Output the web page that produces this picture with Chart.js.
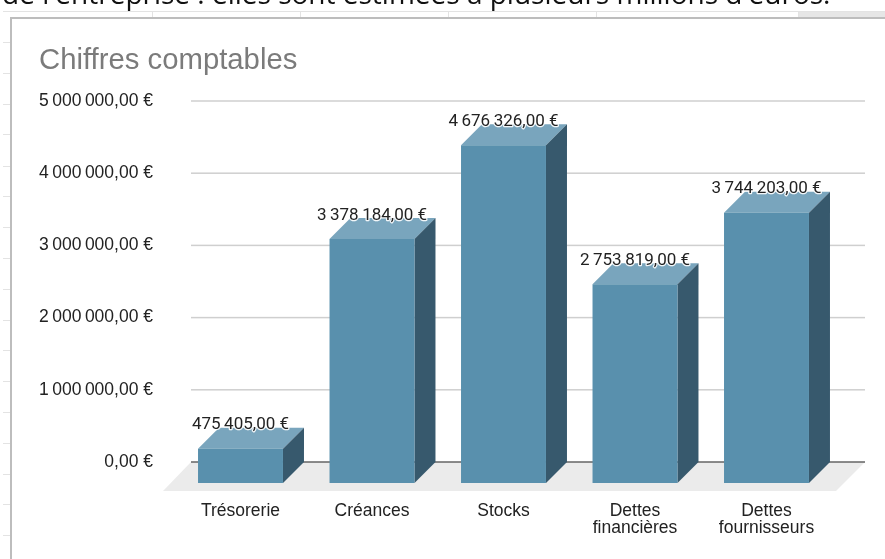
<!DOCTYPE html>
<html lang="fr">
<head>
<meta charset="utf-8">
<title>Chiffres comptables</title>
<style>
html, body { margin: 0; padding: 0; background: #fff; overflow: hidden; }
#page { position: relative; width: 885px; height: 559px; overflow: hidden; filter: blur(0.35px); }
#sentence { position: absolute; left: 2px; top: -26px; font: 28px "Open Sans", sans-serif; color: #111; white-space: nowrap; z-index: 2; }
canvas { position: absolute; left: 0; top: 0; }
</style>
</head>
<body>
<div id="page">
  <div id="sentence">de l'entreprise : elles sont estimées à plusieurs millions d'euros.</div>
  <canvas id="comptaChart" width="885" height="559"></canvas>
</div>
<script src="https://cdn.jsdelivr.net/npm/chart.js@4/dist/chart.umd.min.js"></script>
<script>
var categories = ['Trésorerie', 'Créances', 'Stocks', ['Dettes', 'financières'], ['Dettes', 'fournisseurs']]
var montants = [475405, 3378184, 4676326, 2753819, 3744203]
var yTicks = [0, 1000000, 2000000, 3000000, 4000000, 5000000]

var depth = 21
var floorDepth = 29

// "4 676 326,00 €" with thin spaces between the groups
function euros(v) {
    var s = String(v).replace(/\B(?=(\d{3})+(?!\d))/g, '\u2009')
    return s + ',00\u00a0€'
}

function poly(ctx, color, pts) {
    ctx.fillStyle = color
    ctx.beginPath()
    ctx.moveTo(pts[0][0], pts[0][1])
    for (var i = 1; i < pts.length; i++) ctx.lineTo(pts[i][0], pts[i][1])
    ctx.closePath()
    ctx.fill()
}

// bits of the spreadsheet around the chart
var sheetFrame = {
    id: 'sheetFrame',
    beforeDraw: function (chart) {
        var ctx = chart.ctx
        ctx.save()
        ctx.fillStyle = '#e6e6e6'
        ctx.fillRect(798, 12, 87, 5)
        ctx.strokeStyle = '#e3e3e3'
        ctx.lineWidth = 1
        ctx.beginPath()
        ctx.moveTo(3, 11.5); ctx.lineTo(885, 11.5)
        ;[152, 300, 448, 596, 798].forEach(function (x) {
            ctx.moveTo(x + 0.5, 12); ctx.lineTo(x + 0.5, 17)
        })
        ;[42, 73, 104, 134, 166, 196, 227, 258, 289, 320, 350, 381, 412, 443, 474, 504, 535].forEach(function (y) {
            ctx.moveTo(3, y + 0.5); ctx.lineTo(11, y + 0.5)
        })
        ctx.stroke()
        ctx.fillStyle = '#bdbdbd'
        ctx.fillRect(10, 17, 875, 2)
        ctx.fillRect(10, 17, 2, 542)
        ctx.restore()
    }
}

// floor, gridlines and the top and side faces of the bars
var faces3d = {
    id: 'faces3d',
    beforeDatasetsDraw: function (chart) {
        var ctx = chart.ctx
        var area = chart.chartArea
        var y = chart.scales.y
        var zero = y.getPixelForValue(0)
        var left = area.left - 4.75
        var right = area.right + 11.75
        ctx.save()
        poly(ctx, '#ebebeb', [[left, zero], [right, zero], [right - floorDepth, zero + floorDepth], [left - floorDepth + 1, zero + floorDepth]])
        y.ticks.forEach(function (t) {
            var p = y.getPixelForValue(t.value)
            ctx.fillStyle = t.value === 0 ? '#666666' : '#cfcfcf'
            ctx.fillRect(left, p - 0.75, right - left, 1.5)
        })
        chart.getDatasetMeta(0).data.forEach(function (bar) {
            var l = bar.x - bar.width / 2
            var r = bar.x + bar.width / 2
            poly(ctx, '#79a5bd', [[l, bar.y], [r, bar.y], [r - depth, bar.y + depth], [l - depth, bar.y + depth]])
            poly(ctx, '#37596d', [[r, bar.y], [r - depth, bar.y + depth], [r - depth, bar.base + depth], [r, bar.base]])
        })
        ctx.restore()
    },
    // the front face sits nearer to the viewer than the value it stands for
    beforeDatasetDraw: function (chart) {
        chart.ctx.save()
        chart.ctx.translate(-depth, depth)
    },
    afterDatasetDraw: function (chart) {
        chart.ctx.restore()
    },
    afterDatasetsDraw: function (chart) {
        var ctx = chart.ctx
        ctx.save()
        ctx.font = '17px Roboto'
        ctx.textAlign = 'center'
        ctx.textBaseline = 'middle'
        ctx.lineJoin = 'round'
        chart.getDatasetMeta(0).data.forEach(function (bar, i) {
            var txt = euros(montants[i])
            ctx.strokeStyle = 'rgba(255,255,255,0.9)'
            ctx.lineWidth = 2.5
            ctx.strokeText(txt, bar.x - depth, bar.y - 2.5)
            ctx.fillStyle = '#222222'
            ctx.fillText(txt, bar.x - depth, bar.y - 2.5)
        })
        ctx.restore()
    }
}

var ctx = document.getElementById('comptaChart').getContext('2d')
var comptaChart = new Chart(ctx, {
    type: 'bar',
    plugins: [sheetFrame, faces3d],
    data: {
        labels: categories,
        datasets: [{
            data: montants,
            backgroundColor: '#5990ad',
            categoryPercentage: 1,
            barPercentage: 0.646,
            clip: false
        }]
    },
    options: {
        responsive: false,
        animation: false,
        layout: { padding: { left: 39, right: 31.75, top: 0, bottom: 0 } },
        plugins: {
            legend: { display: false },
            tooltip: { enabled: false },
            title: {
                display: true,
                text: 'Chiffres comptables',
                align: 'start',
                color: '#7b7b7b',
                font: { family: '"Liberation Sans"', size: 29.3, weight: 'normal' },
                padding: { top: 43, bottom: 22.84 }
            }
        },
        scales: {
            x: {
                grid: { display: false, drawTicks: false },
                border: { display: false },
                afterFit: function (scale) { scale.height = 97 },
                ticks: {
                    color: '#222222',
                    font: { family: '"Liberation Sans"', size: 17.5, lineHeight: 1 },
                    padding: 40,
                    labelOffset: -depth,
                    maxRotation: 0,
                    autoSkip: false
                }
            },
            y: {
                min: 0,
                max: 5000000,
                grid: { display: false, drawTicks: false },
                border: { display: false },
                afterFit: function (scale) { scale.width = 156.75 },
                afterBuildTicks: function (scale) {
                    scale.ticks = yTicks.map(function (v) { return { value: v } })
                },
                ticks: {
                    color: '#222222',
                    font: { family: '"Liberation Sans"', size: 17.5 },
                    padding: 42.75,
                    callback: function (v) { return euros(v) }
                }
            }
        }
    }
})
</script>
</body>
</html>
